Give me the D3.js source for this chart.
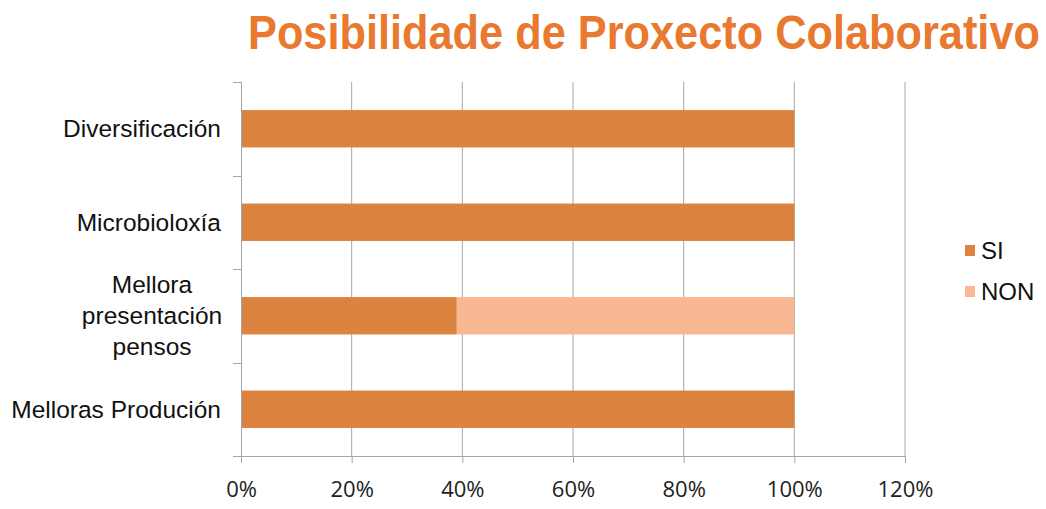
<!DOCTYPE html>
<html>
<head>
<meta charset="utf-8">
<script src="https://cdn.jsdelivr.net/npm/d3@7"></script>
<style>
  body { margin: 0; background: #fff; }
  svg { display: block; }
</style>
</head>
<body>
<div id="chart"></div>
<script>
// categories top to bottom
const categories = ['Diversificación', 'Microbioloxía', 'Mellora presentación pensos', 'Melloras Produción'];
const categoryLines = [['Diversificación'], ['Microbioloxía'], ['Mellora', 'presentación', 'pensos'], ['Melloras Produción']];
const seriesNames = ['SI', 'NON'];
const siValues = [1.00, 1.00, 0.39, 1.00];
const nonValues = [0.00, 0.00, 0.61, 0.00];
const xTicks = [0, 0.2, 0.4, 0.6, 0.8, 1.0, 1.2];
const colors = ['#DC843F', '#F9B793'];

const width = 1046, height = 509;
const margin = { top: 82, right: 141, bottom: 53, left: 241 };
const innerW = width - margin.left - margin.right;
const innerH = height - margin.top - margin.bottom;

const svg = d3.select('#chart').append('svg')
    .attr('width', width).attr('height', height);

// title: narrow it horizontally to the reference width
const title = svg.append('text')
    .attr('x', 0).attr('y', 0)
    .style('font-family', '"Liberation Sans", Arial, sans-serif')
    .style('font-size', '48px').style('font-weight', 'bold')
    .style('fill', '#E8792F')
    .text('Posibilidade de Proxecto Colaborativo');
const natural = title.node().getComputedTextLength();
title.attr('transform', `translate(248,49) scale(${792 / natural},1)`);

const g = svg.append('g').attr('transform', `translate(${margin.left},${margin.top})`);

const x = d3.scaleLinear().domain([0, 1.2]).range([0, innerW]);
const y = d3.scaleBand().domain(categories).range([0, innerH]).paddingInner(0.6).paddingOuter(0.3);

// gridlines
g.selectAll('.grid').data(xTicks.slice(1)).join('line')
    .attr('x1', d => x(d)).attr('x2', d => x(d))
    .attr('y1', 0).attr('y2', innerH)
    .attr('stroke', '#A6A6A6').attr('stroke-width', 1);

// stacked bars
const rows = categories.map((c, i) => ({ cat: c, SI: siValues[i], NON: nonValues[i] }));
const stacked = d3.stack().keys(seriesNames)(rows);
g.selectAll('.series').data(stacked).join('g')
    .attr('fill', (d, i) => colors[i])
    .selectAll('rect').data(d => d).join('rect')
    .attr('x', d => x(d[0]))
    .attr('width', d => x(d[1]) - x(d[0]))
    .attr('y', d => y(d.data.cat))
    .attr('height', y.bandwidth());

// x axis
const xAxis = g.append('g').attr('transform', `translate(0,${innerH})`)
    .call(d3.axisBottom(x).tickValues(xTicks).tickFormat(d3.format('.0%')).tickSizeInner(7).tickSizeOuter(0).tickPadding(18));
xAxis.select('.domain').attr('stroke', '#A6A6A6').attr('d', `M-8,0.5H${innerW}`);
xAxis.selectAll('line').attr('stroke', '#A6A6A6');
xAxis.selectAll('text')
    .style('font-family', '"Open Sans", sans-serif').style('font-size', '22px').style('fill', '#222');

// y axis with ticks at band boundaries
const step = innerH / categories.length;
const yAxisG = g.append('g');
yAxisG.append('line').attr('x1', 0.5).attr('x2', 0.5).attr('y1', 0).attr('y2', innerH).attr('stroke', '#A6A6A6');
yAxisG.selectAll('.yt').data(d3.range(categories.length + 1)).join('line')
    .attr('x1', -8).attr('x2', 0)
    .attr('y1', d => Math.round(d * step) + 0.5).attr('y2', d => Math.round(d * step) + 0.5)
    .attr('stroke', '#A6A6A6');

// category labels
const lineH = 31;
g.selectAll('.cat').data(categories).join('text')
    .attr('text-anchor', 'middle')
    .style('font-family', '"Liberation Sans", Arial, sans-serif').style('font-size', '24.5px').style('fill', '#111')
    .each(function (d, i) {
        const lines = categoryLines[i];
        const cy = y(d) + y.bandwidth() / 2;
        const t = d3.select(this);
        if (lines.length === 1) {
            t.attr('text-anchor', 'end');
        }
        lines.forEach((ln, j) => {
            t.append('tspan')
                .attr('x', lines.length === 1 ? -20 : -89)
                .attr('y', cy + (j - (lines.length - 1) / 2) * lineH)
                .attr('dy', '0.35em')
                .text(ln);
        });
    });

// legend
const legend = svg.append('g').attr('transform', 'translate(965,0)');
const legendY = [250, 291];
seriesNames.forEach((s, i) => {
    legend.append('rect').attr('x', 0).attr('y', legendY[i] - 5).attr('width', 10).attr('height', 11).attr('fill', colors[i]);
    legend.append('text').attr('x', 16).attr('y', legendY[i]).attr('dy', '0.36em')
        .style('font-family', '"Liberation Sans", Arial, sans-serif').style('font-size', '24px').style('fill', '#111')
        .text(s);
});
</script>
</body>
</html>
